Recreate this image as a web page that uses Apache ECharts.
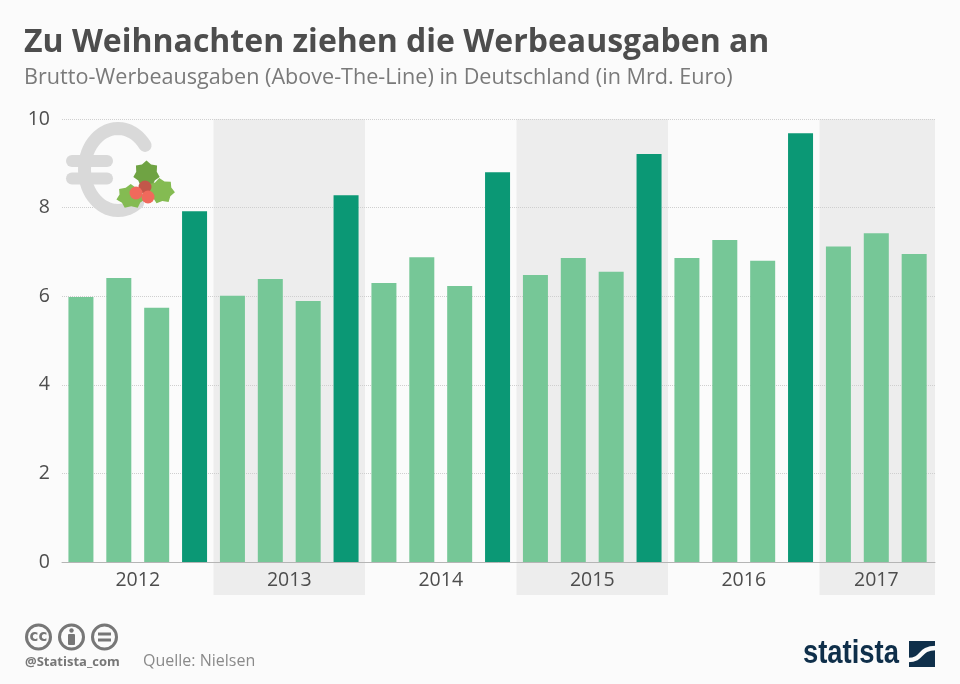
<!DOCTYPE html>
<html>
<head>
<meta charset="utf-8">
<title>Werbeausgaben</title>
<style>html,body{margin:0;padding:0;background:#fbfbfb}#chart{width:960px;height:684px}</style>
<script src="https://cdn.jsdelivr.net/npm/echarts@6/dist/echarts.min.js"></script>
</head>
<body>
<div id="chart"></div>
<script>
var years = ['2012', '2013', '2014', '2015', '2016', '2017'];
var values2012 = [5.98, 6.41, 5.74, 7.92];
var values2013 = [6.01, 6.39, 5.89, 8.28];
var values2014 = [6.30, 6.88, 6.23, 8.80];
var values2015 = [6.48, 6.86, 6.55, 9.21];
var values2016 = [6.86, 7.27, 6.80, 9.68];
var values2017 = [7.12, 7.42, 6.95];
var yTicks = [0, 2, 4, 6, 8, 10];

var LIGHT = '#76c797', DARK = '#0b9875', TEXT = '#4d4d4d', FONT = '"Open Sans"';
var XMAX = 23.05; // the shaded frame runs a bit past the last slot

var allYears = [values2012, values2013, values2014, values2015, values2016, values2017];
var barData = [], bands = [], labelPos = [], start = 0;
allYears.forEach(function (vals, y) {
    vals.forEach(function (v, q) {
        // Q4 is the christmas quarter, drawn darker
        barData.push({value: [start + q + 0.5, v], itemStyle: {color: q === 3 ? DARK : LIGHT}});
    });
    var end = start + vals.length;
    if (y % 2 === 1) bands.push([start, y === years.length - 1 ? XMAX : end]);
    labelPos.push((start + end) / 2);
    start = end;
});

function leaf(cx, cy, rx, ry, rot, color) {
    var pts = [], n = 7;
    for (var i = 0; i < n * 2; i++) {
        var a = i * Math.PI / n + rot;
        var k = i % 2 ? 0.78 : 1;
        pts.push([cx + Math.cos(a) * rx * k, cy + Math.sin(a) * ry * k]);
    }
    return {type: 'polygon', shape: {points: pts}, style: {fill: color}, z: 10};
}

// the C of the euro sign is an ellipse, not a circle
var euroPts = [];
for (var t = -36; t >= -310; t -= 6) {
    euroPts.push([118 + 33.5 * Math.cos(t * Math.PI / 180), 169.5 + 41 * Math.sin(t * Math.PI / 180)]);
}

var graphics = [
    {type: 'polyline', shape: {points: euroPts}, style: {stroke: '#d9d9d9', lineWidth: 13, lineCap: 'round', lineJoin: 'round', fill: null}, z: 5},
    {type: 'line', shape: {x1: 72, y1: 161, x2: 107, y2: 161}, style: {stroke: '#d9d9d9', lineWidth: 12, lineCap: 'round'}, z: 5},
    {type: 'line', shape: {x1: 72, y1: 178.5, x2: 107, y2: 178.5}, style: {stroke: '#d9d9d9', lineWidth: 12, lineCap: 'round'}, z: 5},
    // holly
    leaf(146.5, 174, 13.5, 13.5, -1.57, '#6fa343'),
    leaf(131, 196.5, 15, 12.5, 2.9, '#84bb52'),
    leaf(161, 191, 14, 13, 0.1, '#84bb52'),
    {type: 'circle', shape: {cx: 145, cy: 187, r: 6.5}, style: {fill: '#c2574a'}, z: 11},
    {type: 'circle', shape: {cx: 136, cy: 193, r: 6.5}, style: {fill: '#f0695c'}, z: 12},
    {type: 'circle', shape: {cx: 148, cy: 197, r: 6.5}, style: {fill: '#f0695c'}, z: 12},
    // cc icons
    {type: 'circle', shape: {cx: 38.5, cy: 637, r: 12}, style: {fill: 'none', stroke: '#777', lineWidth: 3}},
    {type: 'text', x: 38.5, y: 637, style: {text: 'cc', font: 'bold 15px "DejaVu Sans"', fill: '#777', align: 'center', verticalAlign: 'middle'}},
    {type: 'circle', shape: {cx: 71.5, cy: 637, r: 12}, style: {fill: 'none', stroke: '#777', lineWidth: 3}},
    {type: 'circle', shape: {cx: 71.5, cy: 630.5, r: 2.2}, style: {fill: '#777'}},
    {type: 'rect', shape: {x: 68, y: 634, width: 7, height: 11, r: 1}, style: {fill: '#777'}},
    {type: 'circle', shape: {cx: 104.5, cy: 637, r: 12}, style: {fill: 'none', stroke: '#777', lineWidth: 3}},
    {type: 'rect', shape: {x: 98, y: 632.5, width: 13, height: 3}, style: {fill: '#777'}},
    {type: 'rect', shape: {x: 98, y: 638.5, width: 13, height: 3}, style: {fill: '#777'}},
    {type: 'text', x: 25, y: 662, style: {text: '@Statista_com', font: 'bold 13px ' + FONT, fill: '#777', verticalAlign: 'middle'}},
    {type: 'text', x: 143, y: 661, style: {text: 'Quelle: Nielsen', font: '16px ' + FONT, fill: '#8a8a8a', verticalAlign: 'middle'}},
    // statista logo
    {type: 'text', x: 803, y: 654, scaleX: 0.83, style: {text: 'statista', font: 'bold 33px "Liberation Sans"', fill: '#0f2f4a', verticalAlign: 'middle'}},
    {type: 'rect', shape: {x: 909, y: 641, width: 26, height: 26}, style: {fill: '#0f2f4a'}},
    {type: 'bezierCurve', shape: {x1: 908, y1: 660, cpx1: 924, cpy1: 660, cpx2: 918, cpy2: 648, x2: 936, y2: 648},
        style: {stroke: '#fbfbfb', lineWidth: 4.5, fill: null}}
];

var chart = echarts.init(document.getElementById('chart'));
chart.setOption({
    backgroundColor: '#fbfbfb',
    animation: false,
    title: {
        text: 'Zu Weihnachten ziehen die Werbeausgaben an',
        subtext: 'Brutto-Werbeausgaben (Above-The-Line) in Deutschland (in Mrd. Euro)',
        left: 24,
        top: 27,
        itemGap: 8,
        padding: 0,
        textStyle: {fontFamily: FONT, fontSize: 32, fontWeight: 'bold', color: TEXT},
        subtextStyle: {fontFamily: FONT, fontSize: 21.6, color: '#7a7a7a'}
    },
    grid: {left: 62, right: 25, top: 119, bottom: 122},
    xAxis: {
        type: 'value',
        min: 0,
        max: XMAX,
        axisLine: {onZero: false, lineStyle: {color: '#b5b5b5', width: 1}},
        axisTick: {show: false},
        splitLine: {show: false},
        axisLabel: {
            customValues: labelPos,
            margin: 8,
            fontFamily: FONT,
            fontSize: 19.5,
            color: TEXT,
            formatter: function (v) { return years[labelPos.indexOf(v)]; }
        }
    },
    yAxis: {
        type: 'value',
        min: yTicks[0],
        max: yTicks[yTicks.length - 1],
        interval: 2,
        axisLine: {show: false},
        axisTick: {show: false},
        axisLabel: {margin: 12, padding: [2, 0, 0, 0], fontFamily: FONT, fontSize: 19.5, color: TEXT},
        splitLine: {lineStyle: {color: '#cfcfcf', type: 'dotted', width: 1}}
    },
    series: [{
        type: 'custom',
        silent: true,
        clip: false,
        z: -1,
        data: bands,
        encode: {x: [0, 1]},
        renderItem: function (params, api) {
            var a = api.coord([api.value(0), 10]);
            var b = api.coord([api.value(1), 0]);
            return {type: 'rect', shape: {x: a[0], y: a[1], width: b[0] - a[0], height: b[1] - a[1] + 33}, style: {fill: '#ededed'}};
        }
    }, {
        type: 'bar',
        data: barData,
        barWidth: 25,
        z: 3
    }],
    graphic: {elements: graphics}
});
</script>
</body>
</html>
